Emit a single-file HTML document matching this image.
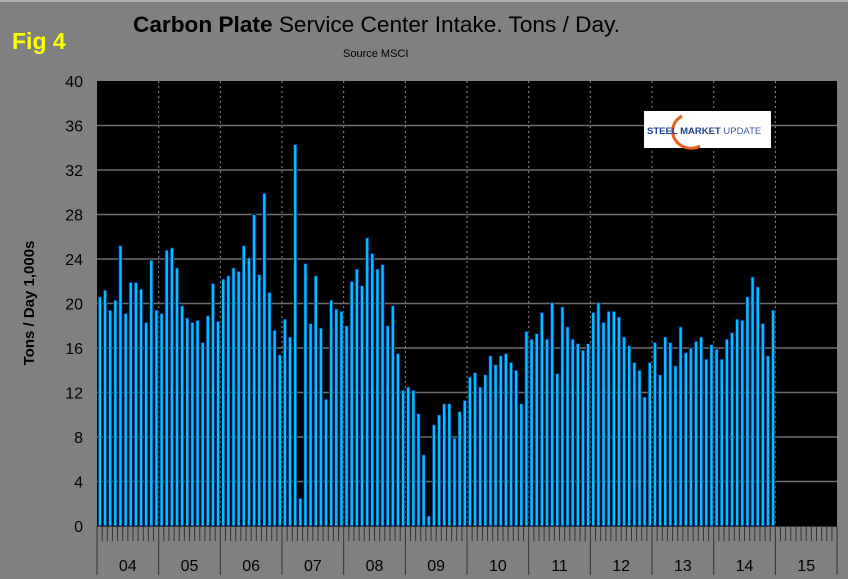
<!DOCTYPE html>
<html><head><meta charset="utf-8"><style>
body{margin:0;background:#808080;}
svg{display:block;font-family:"Liberation Sans",Arial,sans-serif;}
</style></head><body>
<svg id="chart" width="848" height="579" viewBox="0 0 848 579">
<rect x="0" y="0" width="848" height="579" fill="#808080"/>
<rect x="0" y="0" width="848" height="2" fill="#b0b0b0"/>
<text x="12" y="49" font-size="23" font-weight="bold" fill="#ffff00">Fig 4</text>
<text x="133" y="32" font-size="22" textLength="487" lengthAdjust="spacingAndGlyphs" fill="#000"><tspan font-weight="bold">Carbon Plate</tspan> Service Center Intake. Tons / Day.</text>
<text x="343" y="57" font-size="11" fill="#000">Source MSCI</text>
<text transform="translate(34,303) rotate(-90)" text-anchor="middle" font-size="15" font-weight="bold" fill="#000">Tons / Day 1,000s</text>
<rect x="97" y="81" width="740" height="445" fill="#000"/>
<g id="grid"></g>
<g id="bars"></g>
<g id="axis"></g>
<g>
<rect x="644" y="111" width="127" height="37" fill="#fff"/>
<path d="M682 116 A16 15 0 1 0 700 146" fill="none" stroke="#e8601c" stroke-width="3"/>
<text x="647" y="134" font-size="9.5" font-weight="bold" fill="#1f3f8f">STEEL <tspan>MARKET</tspan> <tspan font-weight="normal" fill="#3a5aa8">UPDATE</tspan></text>
</g>
</svg>
<script>
const years = ["04","05","06","07","08","09","10","11","12","13","14","15"];
const yTicks = [0,4,8,12,16,20,24,28,32,36,40];
const v2004 = [20.6,21.2,19.4,20.3,25.2,19.1,21.9,21.9,21.3,18.3,23.9,19.4];
const v2005 = [19.1,24.8,25.0,23.2,19.8,18.7,18.3,18.5,16.5,18.9,21.8,18.4];
const v2006 = [22.2,22.5,23.2,22.9,25.2,24.1,28.0,22.6,29.9,21.0,17.6,15.4];
const v2007 = [18.6,17.0,34.3,2.5,23.6,18.2,22.5,17.8,11.4,20.3,19.5,19.3];
const v2008 = [18.0,22.0,23.1,21.6,25.9,24.5,23.1,23.5,18.0,19.8,15.5,12.2];
const v2009 = [12.5,12.2,10.1,6.4,0.9,9.1,10.0,11.0,11.0,7.9,10.3,11.3];
const v2010 = [13.4,13.8,12.5,13.6,15.3,14.5,15.3,15.5,14.7,14.0,11.0,17.5];
const v2011 = [16.8,17.3,19.2,16.8,20.1,13.7,19.7,17.9,16.8,16.4,15.8,16.4];
const v2012 = [19.2,20.1,18.3,19.3,19.3,18.8,17.0,16.2,14.7,14.0,11.6,14.7];
const v2013 = [16.5,13.6,17.0,16.5,14.4,17.9,15.6,16.0,16.6,17.0,15.0,16.3];
const v2014 = [15.9,15.0,16.8,17.4,18.6,18.5,20.6,22.4,21.5,18.2,15.3,19.4];
const values = [].concat(v2004,v2005,v2006,v2007,v2008,v2009,v2010,v2011,v2012,v2013,v2014);

const NS="http://www.w3.org/2000/svg";
const X0=97, X1=837, Y0=526, Y1=81, YMAX=40;
const yearW=61.67;
const monthW=yearW/12;
function yScale(v){return Y0-(v/YMAX)*(Y0-Y1);}
function xMonth(i){return X0+i*monthW;}
function mk(tag,attrs,parent){const e=document.createElementNS(NS,tag);for(const k in attrs)e.setAttribute(k,attrs[k]);parent.appendChild(e);return e;}

const grid=document.getElementById('grid');
yTicks.forEach(t=>{
  if(t>0&&t<YMAX){
    const l=mk('line',{x1:X0,x2:X1,y1:yScale(t),y2:yScale(t),stroke:'#6e6e6e','stroke-width':1.5},grid);
    
    
  }
  const tx=mk('text',{x:83,y:yScale(t)+6,'text-anchor':'end','font-size':16,fill:'#000'},grid);
  tx.textContent=t;
  
  
});
for(let k=1;k<years.length;k++){
  const x=X0+k*yearW;
  const l=mk('line',{x1:x,x2:x,y1:Y1,y2:Y0,stroke:'#8a8a8a','stroke-width':1,'stroke-dasharray':'2,3'},grid);
  
  
}

const bars=document.getElementById('bars');
values.forEach((v,i)=>{
  const x=xMonth(i)+1.2, y=yScale(v);
  const r=mk('rect',{x:x,y:y,width:3.4,height:Y0-y,fill:'#00c0ff',stroke:'#001a5a','stroke-width':0.9},bars);
  
  
});

const axis=document.getElementById('axis');
const al=mk('line',{x1:X0,x2:X1,y1:Y0+0.5,y2:Y0+0.5,stroke:'#333','stroke-width':1},axis);


for(let i=0;i<=years.length*12;i++){
  const x=X0+i*monthW;
  const major=i%12===0;
  const t=mk('line',{x1:x,x2:x,y1:Y0,y2:major?575:541,stroke:'#333','stroke-width':1},axis);
  
  
}
years.forEach((yr,k)=>{
  const tx=mk('text',{x:X0+k*yearW+yearW/2,y:571,'text-anchor':'middle','font-size':16,fill:'#000'},axis);
  tx.textContent=yr;
  
  
});
</script>
</body></html>
